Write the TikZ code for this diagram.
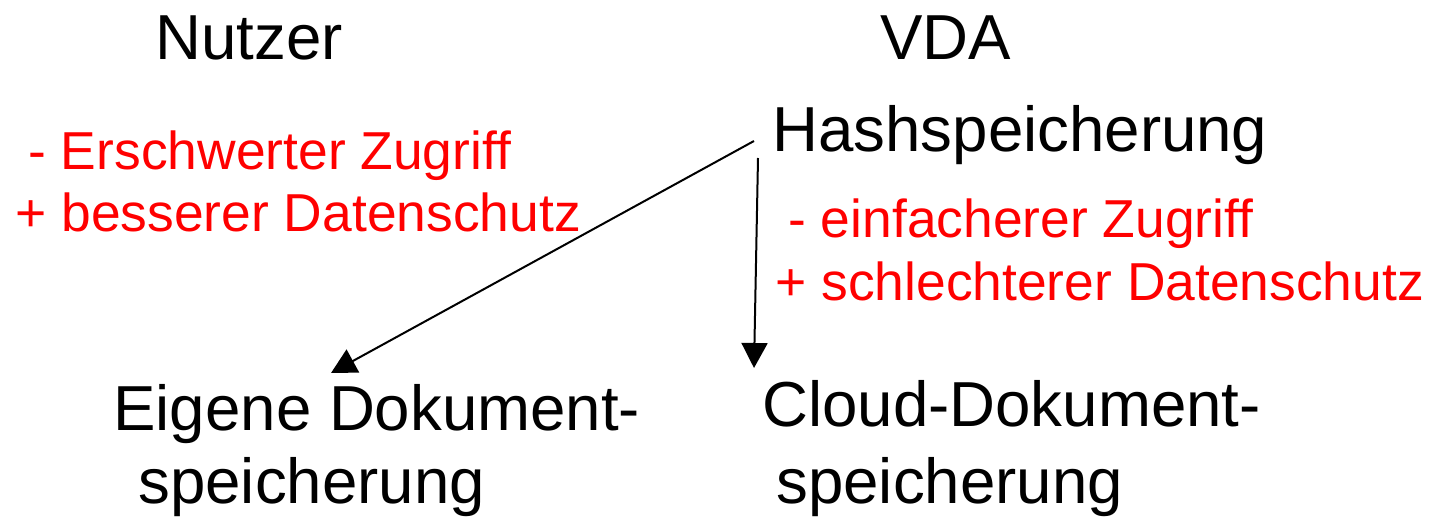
\documentclass[tikz,border=0pt]{standalone}
\usepackage{fontspec}
\setmainfont{Liberation Sans}
\usepackage{tikz}
\usetikzlibrary{arrows.meta}

\begin{document}
\begin{tikzpicture}[x=0.5pt, y=-0.5pt,
  every node/.style={inner sep=0pt, anchor=base west},
  head/.style={font=\fontsize{31.8}{38}\selectfont},
  pro/.style={font=\fontsize{26.7}{32}\selectfont, text=red},
  arr/.style={-{Triangle[width=13pt,length=12.5pt]}, line width=1pt}]
\useasboundingbox (0,0) rectangle (1441,518);
%nodes
\node[head] (user) at (155,60) {Nutzer};
\node[head] (vda) at (880,60) {VDA};
\node[head] (hash) at (772,152) {Hashspeicherung};
\node[pro] (minus1) at (28,170) {- Erschwerter Zugriff};
\node[pro] (plus1) at (15,232) {+ besserer Datenschutz};
\node[pro] (minus2) at (788,238) {- einfacherer Zugriff};
\node[pro] (plus2) at (775,300) {+ schlechterer Datenschutz};
\node[head] (own1) at (113,430) {Eigene Dokument-};
\node[head] (own2) at (138,503) {speicherung};
\node[head] (cloud1) at (762,426) {Cloud-Dokument-};
\node[head] (cloud2) at (776,503) {speicherung};
%arrows
\draw[arr] ([xshift=-9pt, yshift=5.5pt]hash.base west) to ([xshift=109pt, yshift=28.5pt]own1.base west);
\draw[arr] ([xshift=-7pt, yshift=-3pt]hash.base west) to ([xshift=-4pt, yshift=29pt]cloud1.base west);
\end{tikzpicture}
\end{document}
